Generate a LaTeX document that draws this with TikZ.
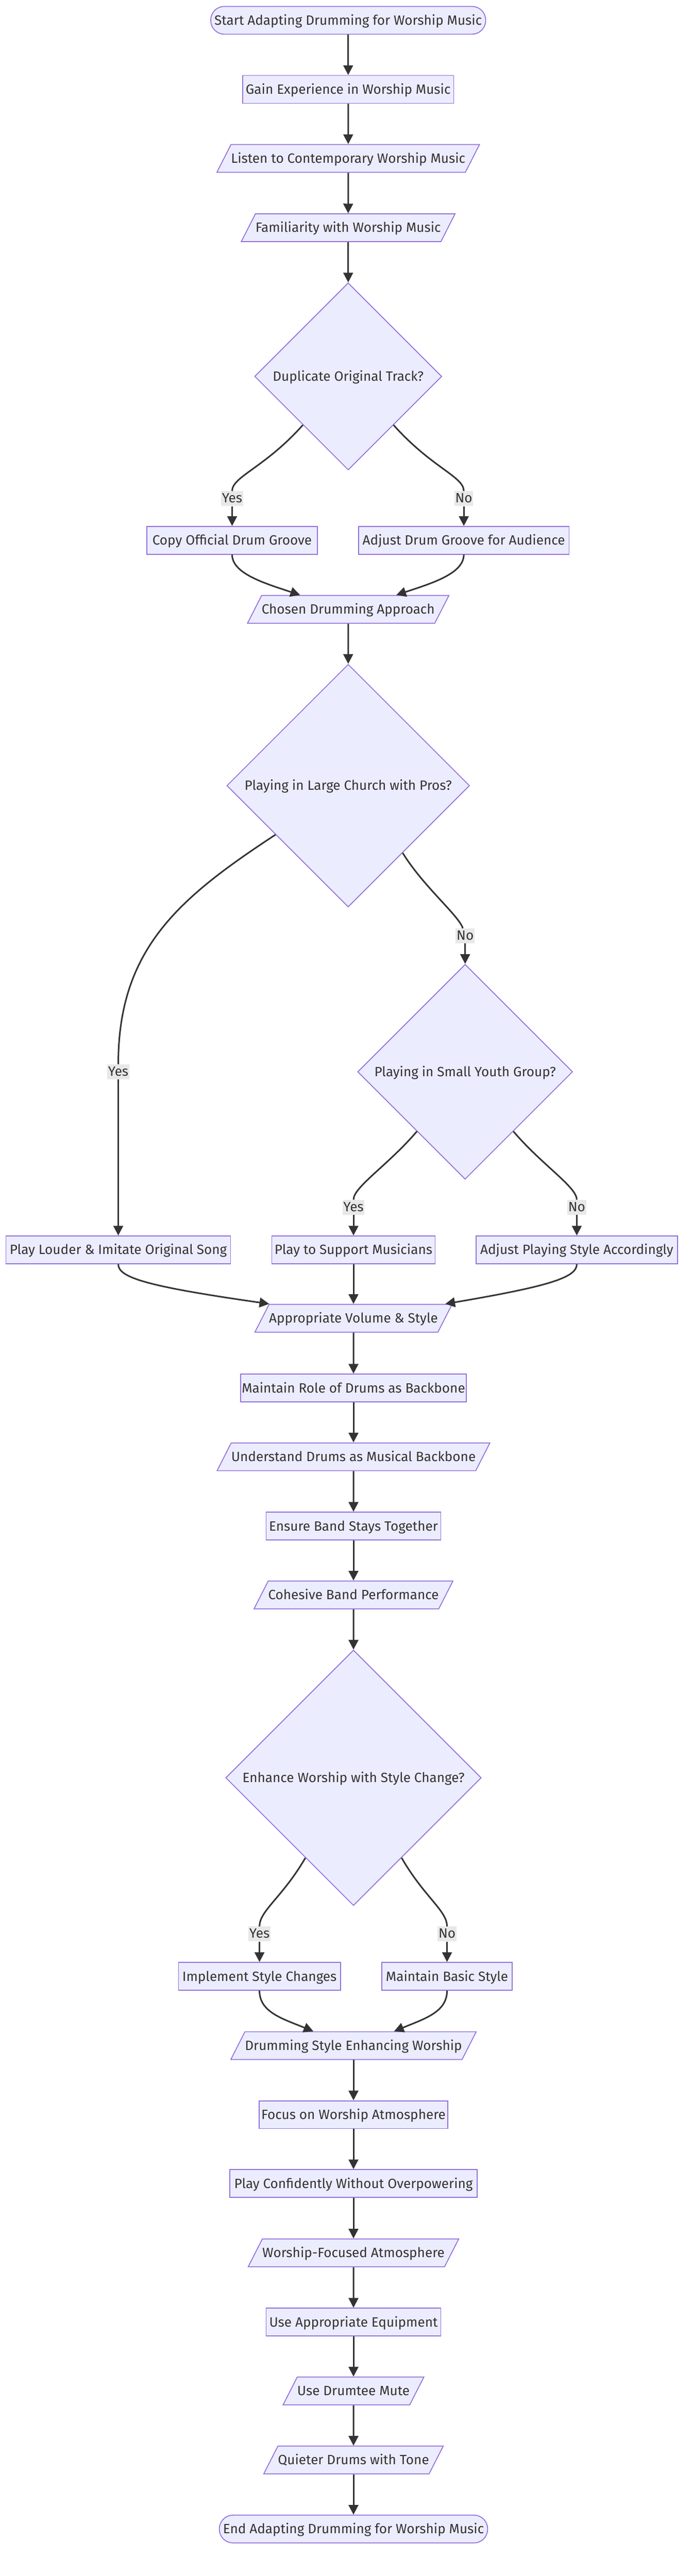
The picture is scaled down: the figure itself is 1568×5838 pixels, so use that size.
\documentclass[tikz,border=0pt]{standalone}
\usepackage{fontspec}
\setmainfont{Fira Sans}
\usetikzlibrary{shapes.geometric,arrows.meta}
\definecolor{nodeFill}{HTML}{ECECFF}
\definecolor{nodeBorder}{HTML}{9370DB}
\definecolor{lineDark}{HTML}{333333}
\definecolor{labelGray}{HTML}{E8E8E8}

\begin{document}
\begin{tikzpicture}[x=1pt,y=-1pt,
  every node/.style={font=\fontsize{30.5}{36}\selectfont,text=lineDark},
  shaped/.style={draw=nodeBorder,fill=nodeFill,line width=2pt,
    inner xsep=0pt,inner ysep=21pt,text height=21pt,text depth=0pt},
  process/.style={shaped,rectangle,minimum height=63pt},
  terminal/.style={process,rounded corners=31pt},
  data/.style={shaped,trapezium,trapezium left angle=63,
    trapezium right angle=117,inner xsep=0pt},
  decision/.style={shaped,diamond,aspect=1,inner sep=0pt},
  edgeLabel/.style={fill=labelGray,inner xsep=2pt,inner ysep=2pt,
    text height=24pt,text depth=6pt},
  link/.style={draw=lineDark,line width=3.5pt},
  flow/.style={link,-{Triangle[length=22pt,width=22pt]}}]

  \useasboundingbox (0,0) rectangle (1568,5838);

  \node [terminal, minimum width=623pt] (start) at (789,46)
        {Start Adapting Drumming for Worship Music};
  \node [process, minimum width=478pt] (gain) at (789,202.5)
        {Gain Experience in Worship Music};
  \node [data] (listen) at (789,359)
        {Listen to Contemporary Worship Music};
  \node [data] (familiar) at (789,516)
        {Familiarity with Worship Music};
  \node [decision, minimum size=424pt] (duplicate) at (789,853)
        {Duplicate Original Track?};

  \node [process, minimum width=386pt] (copyGroove) at (526,1224.5)
        {Copy Official Drum Groove};
  \node [process, minimum width=477pt] (adjustGroove) at (1051,1224.5)
        {Adjust Drum Groove for Audience};
  \node [data] (chosen) at (789,1381)
        {Chosen Drumming Approach};

  \node [decision, minimum size=550pt] (largeChurch) at (789,1780.5)
        {Playing in Large Church with Pros?};
  \node [decision, minimum size=487pt] (smallYouth) at (1054,2429)
        {Playing in Small Youth Group?};

  \node [process, minimum width=509pt] (playLouder) at (268,2832.5)
        {Play Louder \& Imitate Original Song};
  \node [process, minimum width=370pt] (support) at (801,2832.5)
        {Play to Support Musicians};
  \node [process, minimum width=457pt] (adjustStyle) at (1307,2832.5)
        {Adjust Playing Style Accordingly};
  \node [data] (volume) at (801,2987.5)
        {Appropriate Volume \& Style};

  \node [process, minimum width=512pt] (role) at (801,3145.5)
        {Maintain Role of Drums as Backbone};
  \node [data] (backbone) at (801,3301.5)
        {Understand Drums as Musical Backbone};
  \node [process, minimum width=396pt] (together) at (801,3458.5)
        {Ensure Band Stays Together};
  \node [data] (cohesive) at (801,3614.5)
        {Cohesive Band Performance};
  \node [decision, minimum size=579pt] (enhance) at (801,4029)
        {Enhance Worship with Style Change?};

  \node [process, minimum width=367pt] (implement) at (588,4479)
        {Implement Style Changes};
  \node [process, minimum width=295pt] (basic) at (1013,4479)
        {Maintain Basic Style};
  \node [data] (enhancing) at (801,4636)
        {Drumming Style Enhancing Worship};

  \node [process, minimum width=428pt] (focus) at (801,4792.5)
        {Focus on Worship Atmosphere};
  \node [process, minimum width=560pt] (confident) at (801,4948.5)
        {Play Confidently Without Overpowering};
  \node [data] (atmosphere) at (801,5105.5)
        {Worship-Focused Atmosphere};
  \node [process, minimum width=396pt] (equipment) at (801,5262.5)
        {Use Appropriate Equipment};
  \node [data] (mute) at (801,5418.5)
        {Use Drumtee Mute};
  \node [data] (quieter) at (801,5575)
        {Quieter Drums with Tone};
  \node [terminal, minimum width=608pt] (finish) at (801,5731.5)
        {End Adapting Drumming for Worship Music};

  \node [edgeLabel] (yesA) at (526,1130) {Yes};
  \node [edgeLabel] (noA) at (1051,1130) {No};
  \node [edgeLabel] (yesB) at (268,2429) {Yes};
  \node [edgeLabel] (noB) at (1054,2121) {No};
  \node [edgeLabel] (yesC) at (801,2736) {Yes};
  \node [edgeLabel] (noC) at (1307,2736) {No};
  \node [edgeLabel] (yesD) at (588,4383) {Yes};
  \node [edgeLabel] (noD) at (1013,4383) {No};

  \draw [flow] (start) -- (gain);
  \draw [flow] (gain) -- (listen);
  \draw [flow] (listen) -- (familiar);
  \draw [flow] (familiar) -- (duplicate);

  \draw [link] (duplicate.227) .. controls (600,1060) and (526,1080) .. (yesA);
  \draw [flow] (yesA) -- (copyGroove);
  \draw [link] (duplicate.313) .. controls (978,1060) and (1051,1080) .. (noA);
  \draw [flow] (noA) -- (adjustGroove);

  \draw [flow] (copyGroove.south) .. controls (526,1300) and (600,1322)
        .. ([xshift=-109pt]chosen.north);
  \draw [flow] (adjustGroove.south) .. controls (1051,1300) and (978,1322)
        .. ([xshift=109pt]chosen.north);
  \draw [flow] (chosen) -- (largeChurch);

  \draw [link] (largeChurch.214) .. controls (406,2035) and (268,2150) .. (yesB);
  \draw [flow] (yesB) -- (playLouder);
  \draw [link] (largeChurch.309) .. controls (960,2010) and (1040,2075) .. (noB);
  \draw [flow] (noB) -- (smallYouth);

  \draw [link] (smallYouth.231) .. controls (880,2640) and (801,2690) .. (yesC);
  \draw [flow] (yesC) -- (support);
  \draw [link] (smallYouth.309) .. controls (1228,2640) and (1307,2690) .. (noC);
  \draw [flow] (noC) -- (adjustStyle);

  \draw [flow] (playLouder.south) .. controls (268,2895) and (330,2915)
        .. ([xshift=-191pt]volume.north);
  \draw [flow] (support) -- (volume);
  \draw [flow] (adjustStyle.south) .. controls (1307,2895) and (1245,2915)
        .. ([xshift=208pt]volume.north);

  \draw [flow] (volume) -- (role);
  \draw [flow] (role) -- (backbone);
  \draw [flow] (backbone) -- (together);
  \draw [flow] (together) -- (cohesive);
  \draw [flow] (cohesive) -- (enhance);

  \draw [link] (enhance.239) .. controls (640,4300) and (588,4330) .. (yesD);
  \draw [flow] (yesD) -- (implement);
  \draw [link] (enhance.301) .. controls (962,4300) and (1013,4330) .. (noD);
  \draw [flow] (noD) -- (basic);

  \draw [flow] (implement.south) .. controls (588,4560) and (640,4575)
        .. ([xshift=-91pt]enhancing.north);
  \draw [flow] (basic.south) .. controls (1013,4560) and (962,4575)
        .. ([xshift=92pt]enhancing.north);

  \draw [flow] (enhancing) -- (focus);
  \draw [flow] (focus) -- (confident);
  \draw [flow] (confident) -- (atmosphere);
  \draw [flow] (atmosphere) -- (equipment);
  \draw [flow] (equipment) -- (mute);
  \draw [flow] (mute) -- (quieter);
  \draw [flow] (quieter) -- (finish);

\end{tikzpicture}
\end{document}
